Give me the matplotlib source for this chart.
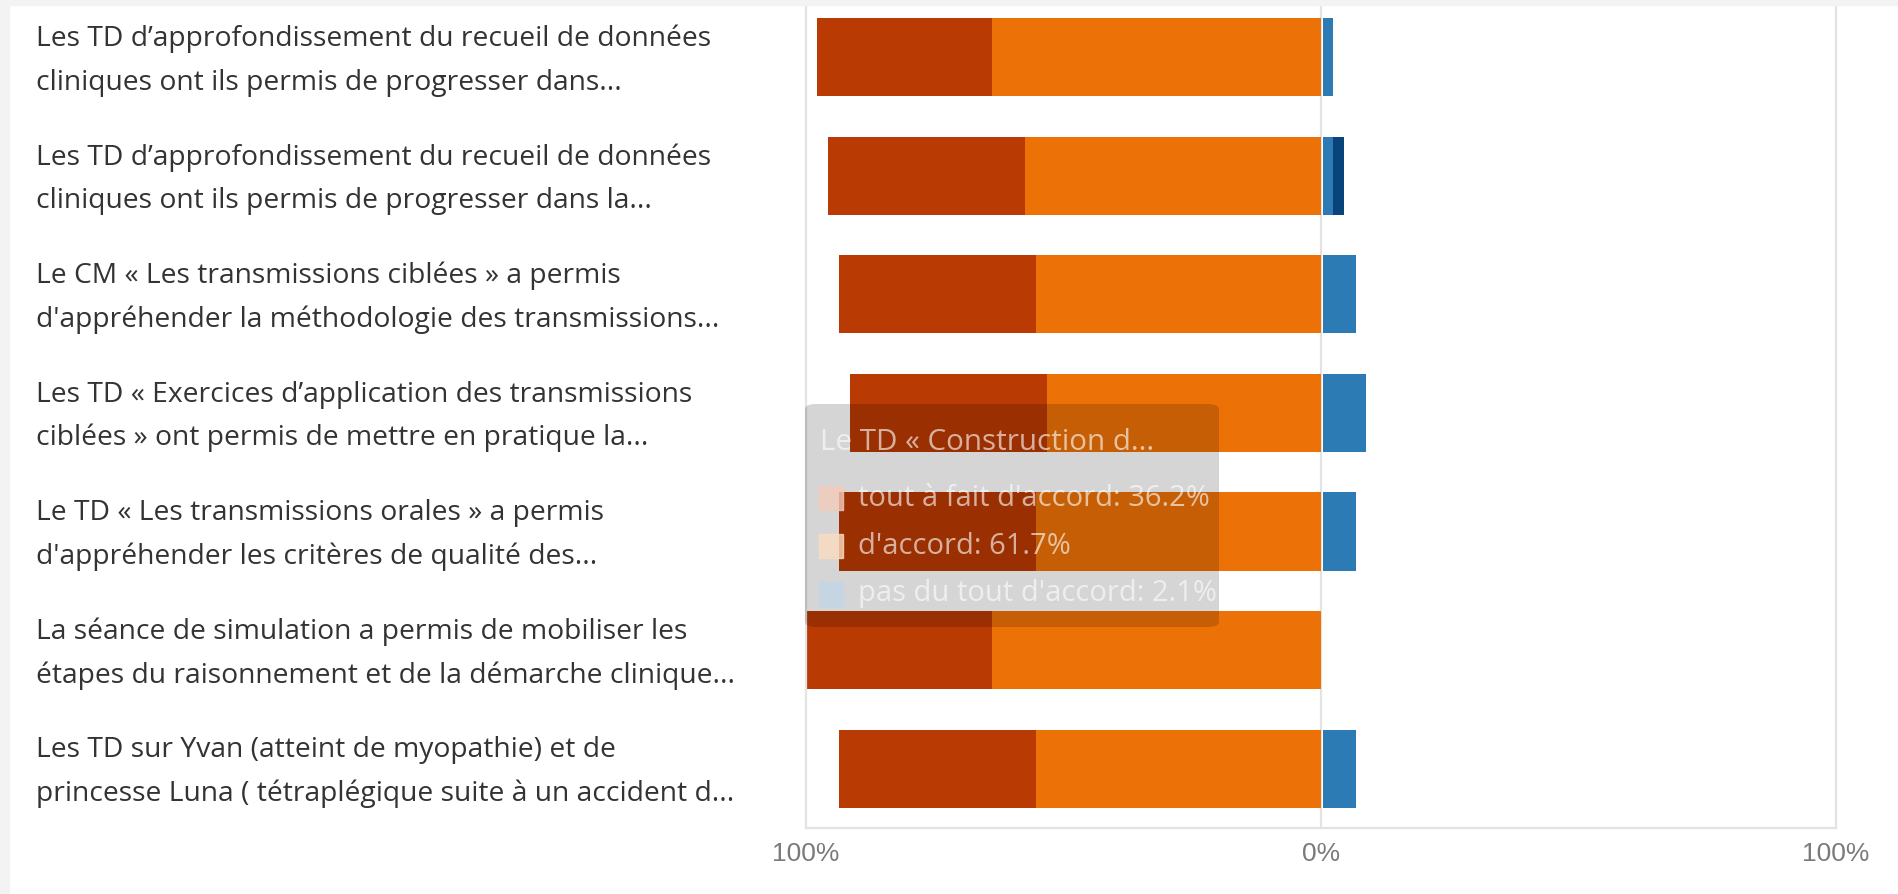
import matplotlib

matplotlib.use("Agg")
import matplotlib.pyplot as plt
from matplotlib.patches import Rectangle, FancyBboxPatch
from matplotlib.transforms import blended_transform_factory

# survey items, top to bottom
questions = [
    "Les TD d\u2019approfondissement du recueil de données\ncliniques ont ils permis de progresser dans...",
    "Les TD d\u2019approfondissement du recueil de données\ncliniques ont ils permis de progresser dans la...",
    "Le CM « Les transmissions ciblées » a permis\nd'appréhender la méthodologie des transmissions...",
    "Les TD « Exercices d\u2019application des transmissions\nciblées » ont permis de mettre en pratique la...",
    "Le TD « Les transmissions orales » a permis\nd'appréhender les critères de qualité des...",
    "La séance de simulation a permis de mobiliser les\nétapes du raisonnement et de la démarche clinique...",
    "Les TD sur Yvan (atteint de myopathie) et de\nprincesse Luna ( tétraplégique suite à un accident d...",
]

# percentages per answer
tout_a_fait = [34.0, 38.3, 38.3, 38.3, 38.3, 36.2, 38.3]
d_accord = [63.8, 57.4, 55.3, 53.2, 55.3, 63.8, 55.3]
pas_d_accord = [2.1, 2.1, 6.4, 8.5, 6.4, 0.0, 6.4]
pas_du_tout = [0.0, 2.1, 0.0, 0.0, 0.0, 0.0, 0.0]

tick_pos = [-100, 0, 100]
tick_labels = ["100%", "0%", "100%"]

# hover tooltip shown in the screenshot
tip_title = "Le TD « Construction d..."
tip_rows = ["tout à fait d'accord: 36.2%", "d'accord: 61.7%", "pas du tout d'accord: 2.1%"]
tip_swatches = ["#f2cbbb", "#fbdcc0", "#c3d6e6"]

c_dark = "#b93a02"
c_orange = "#ec7107"
c_blue = "#2d7bb5"
c_navy = "#08437b"

W, H = 1898, 894
fig = plt.figure(figsize=(W / 100, H / 100), dpi=100)
fig.patch.set_facecolor("white")

# light grey page edges
fig.patches.append(Rectangle((0, 0), 9 / W, 1, transform=fig.transFigure,
                             color="#f3f3f3", zorder=0))
fig.patches.append(Rectangle((0, 1 - 5 / H), 1, 5 / H, transform=fig.transFigure,
                             color="#f3f3f3", zorder=0))

ax = fig.add_axes([806 / W, 1 - 828 / H, (1836 - 806) / W, (828 - 5) / H])
y = list(range(len(questions)))
h = 0.66
ax.barh(y, [-v for v in d_accord], height=h, color=c_orange, zorder=2)
ax.barh(y, [-v for v in tout_a_fait], left=[-v for v in d_accord], height=h,
        color=c_dark, zorder=2)
ax.barh(y, pas_d_accord, left=0.3, height=h, color=c_blue, zorder=2)
ax.barh(y, pas_du_tout, left=[v + 0.3 for v in pas_d_accord], height=h,
        color=c_navy, zorder=2)
ax.axvline(0, color="#e3e3e3", linewidth=1.6, zorder=1)

ax.set_xlim(-100, 100)
ax.set_ylim(6.5, -0.44)
ax.set_xticks(tick_pos)
ax.set_xticklabels(tick_labels, fontsize=19, color="#7a7a7a", family="Liberation Sans")
ax.tick_params(axis="x", length=0, pad=10)
ax.set_yticks([])
for side in ("left", "right", "bottom"):
    ax.spines[side].set_color("#e3e3e3")
    ax.spines[side].set_linewidth(1.6)
ax.spines["top"].set_visible(False)

trans = blended_transform_factory(fig.transFigure, ax.transData)
for yi, q in zip(y, questions):
    ax.text(36 / W, yi + 0.03, q, transform=trans, ha="left", va="center",
            fontsize=20.3, family="Open Sans", color="#333333", linespacing=1.72,
            clip_on=False)

# tooltip overlay (darkens what is under it)
x0, y0, x1, y1 = 805 / W, 1 - 627 / H, 1219 / W, 1 - 404 / H
fig.patches.append(FancyBboxPatch((x0, y0), x1 - x0, y1 - y0,
                                  boxstyle="round,pad=0,rounding_size=0.006",
                                  transform=fig.transFigure, facecolor="black",
                                  edgecolor="none", alpha=0.165, zorder=5))
fig.text(820 / W, 1 - 442 / H, tip_title, fontsize=21.3, family="Open Sans",
         color="white", alpha=0.62, va="center", zorder=6)
for i, (row, sw) in enumerate(zip(tip_rows, tip_swatches)):
    yc = 1 - (498 + 48 * i) / H
    fig.patches.append(Rectangle((819 / W, yc - 12 / H), 24 / W, 24 / H,
                                 transform=fig.transFigure, color=sw, alpha=0.8,
                                 zorder=6))
    fig.text(858 / W, yc, row, fontsize=21, family="Open Sans", color="white",
             alpha=0.62, va="center", zorder=6)

fig.savefig("out.png", dpi=100)
